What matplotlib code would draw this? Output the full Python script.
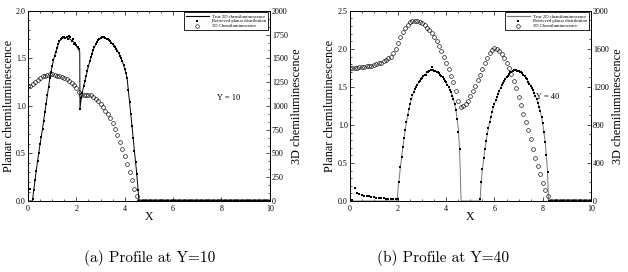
import numpy as np
import matplotlib.pyplot as plt
from matplotlib.ticker import MultipleLocator, AutoMinorLocator
from matplotlib.lines import Line2D

plt.rcParams['font.family'] = ['Liberation Serif', 'DejaVu Serif']

# ---------------- Y = 10 ----------------
a_line_x = [0.0, 0.18, 0.3, 0.4, 0.5, 0.6, 0.7, 0.8, 0.9, 1.0, 1.1, 1.2, 1.3, 1.4, 1.5, 1.6,
            1.7, 1.8, 1.9, 2.0, 2.1, 2.14, 2.15, 2.2, 2.3, 2.4, 2.5, 2.6, 2.7, 2.8, 2.9, 3.0,
            3.1, 3.2, 3.3, 3.4, 3.5, 3.6, 3.7, 3.8, 3.9, 4.0, 4.1, 4.2, 4.3, 4.4, 4.5, 4.58,
            4.6, 10.0]
a_line_y = [0.0, 0.0, 0.24, 0.43, 0.60, 0.76, 0.94, 1.11, 1.29, 1.42, 1.53, 1.61, 1.68, 1.71,
            1.72, 1.72, 1.71, 1.69, 1.67, 1.63, 1.59, 1.57, 0.97, 1.08, 1.21, 1.31, 1.42, 1.51,
            1.59, 1.65, 1.69, 1.71, 1.72, 1.71, 1.70, 1.68, 1.65, 1.62, 1.58, 1.53, 1.47, 1.39,
            1.29, 1.04, 0.79, 0.53, 0.28, 0.03, 0.0, 0.0]

a_dot_x1 = [0.10, 0.20, 0.25, 0.30, 0.35, 0.40, 0.45, 0.50, 0.55, 0.60, 0.65, 0.70, 0.75,
            0.80, 0.85, 0.90, 0.95, 1.00, 1.05, 1.10, 1.15, 1.20, 1.25, 1.30, 1.35, 1.40,
            1.45, 1.50, 1.55, 1.60, 1.65, 1.70, 1.75, 1.80, 1.85, 1.90, 1.95, 2.00, 2.05,
            2.10, 2.15]
a_dot_y1 = [0.13, 0.02, 0.12, 0.22, 0.32, 0.42, 0.51, 0.60, 0.67, 0.76, 0.84, 0.94, 1.02,
            1.11, 1.20, 1.29, 1.36, 1.42, 1.48, 1.53, 1.57, 1.61, 1.65, 1.68, 1.70, 1.71,
            1.72, 1.72, 1.71, 1.72, 1.70, 1.74, 1.72, 1.68, 1.70, 1.65, 1.66, 1.64, 1.62,
            1.60, 0.97]
# second arc, every 0.05 from x = 2.20
a_dot_y2 = [1.08, 1.14, 1.21, 1.26, 1.31, 1.37, 1.42, 1.47, 1.51, 1.55, 1.59, 1.62, 1.65,
            1.67, 1.69, 1.70, 1.71, 1.72, 1.72, 1.72, 1.71, 1.70, 1.70, 1.69, 1.68, 1.66,
            1.65, 1.63, 1.62, 1.60, 1.58, 1.56, 1.53, 1.50, 1.47, 1.43, 1.39, 1.35, 1.29,
            1.17, 1.04, 0.92, 0.79, 0.66, 0.53, 0.41, 0.28, 0.12]
# baseline, every 0.1 from x = 4.6
a_dot_y3 = [0.0] * 55

# 3D chemiluminescence, every 0.1 from x = 0
a_circ_y = [1210, 1210, 1230, 1250, 1270, 1290, 1310, 1320, 1330, 1335, 1335, 1330, 1320,
            1310, 1300, 1290, 1280, 1260, 1240, 1220, 1190, 1150, 1110, 1120, 1120, 1115,
            1110, 1095, 1075, 1050, 1020, 990, 950, 910, 870, 820, 760, 690, 620, 550, 470,
            390, 300, 220, 130, 50] + [0] * 55

# ---------------- Y = 40 ----------------
b_line_x = [0.0, 1.96, 2.0, 2.1, 2.2, 2.3, 2.4, 2.5, 2.6, 2.7, 2.8, 2.9, 3.0, 3.1, 3.2, 3.3,
            3.4, 3.5, 3.6, 3.7, 3.8, 3.9, 4.0, 4.1, 4.2, 4.3, 4.4, 4.5, 4.55, 4.58, 4.6, 4.62,
            5.4, 5.45, 5.5, 5.6, 5.7, 5.8, 5.9, 6.0, 6.1, 6.2, 6.3, 6.4, 6.5, 6.6, 6.7, 6.8,
            6.9, 7.0, 7.1, 7.2, 7.3, 7.4, 7.5, 7.6, 7.7, 7.8, 7.9, 8.0, 8.1, 8.15, 8.2, 8.24,
            10.0]
b_line_y = [0.0, 0.0, 0.15, 0.45, 0.71, 0.94, 1.13, 1.28, 1.39, 1.47, 1.53, 1.58, 1.62, 1.66,
            1.69, 1.71, 1.72, 1.715, 1.70, 1.68, 1.65, 1.61, 1.56, 1.50, 1.43, 1.34, 1.20,
            0.95, 0.70, 0.40, 0.15, 0.0, 0.0, 0.25, 0.42, 0.68, 0.88, 1.04, 1.17, 1.28, 1.37,
            1.45, 1.52, 1.58, 1.63, 1.67, 1.70, 1.72, 1.72, 1.71, 1.69, 1.66, 1.62, 1.57,
            1.52, 1.46, 1.38, 1.29, 1.18, 1.02, 0.78, 0.60, 0.38, 0.0, 0.0]

# low tail, every 0.1 from x = 0.1
b_dot_y1 = [0.01, 0.17, 0.11, 0.09, 0.08, 0.07, 0.065, 0.06, 0.055, 0.05, 0.045, 0.04, 0.04,
            0.035, 0.03, 0.03, 0.025, 0.025, 0.02, 0.02]
# first arc, every 0.05 from x = 2.05
b_dot_y2 = [0.25, 0.45, 0.58, 0.71, 0.83, 0.94, 1.04, 1.13, 1.21, 1.28, 1.34, 1.39, 1.43,
            1.47, 1.50, 1.53, 1.56, 1.58, 1.60, 1.62, 1.65, 1.66, 1.66, 1.69, 1.70, 1.71,
            1.72, 1.76, 1.72, 1.71, 1.71, 1.70, 1.69, 1.68, 1.66, 1.65, 1.63, 1.61, 1.58,
            1.56, 1.53, 1.50, 1.46, 1.43, 1.38, 1.34, 1.27, 1.20, 1.08, 0.91, 0.68]
# second arc, every 0.05 from x = 5.40
b_dot_y3 = [0.02, 0.25, 0.42, 0.56, 0.68, 0.79, 0.88, 0.96, 1.04, 1.11, 1.17, 1.23, 1.28,
            1.33, 1.37, 1.41, 1.45, 1.49, 1.52, 1.55, 1.58, 1.61, 1.63, 1.65, 1.67, 1.69,
            1.70, 1.71, 1.72, 1.72, 1.72, 1.715, 1.71, 1.70, 1.69, 1.68, 1.66, 1.64, 1.62,
            1.60, 1.57, 1.54, 1.51, 1.48, 1.46, 1.42, 1.38, 1.34, 1.29, 1.24, 1.18, 1.11,
            1.02, 0.91, 0.78, 0.60, 0.38, 0.0]
# baseline, every 0.1 from x = 8.3
b_dot_y4 = [0.0] * 18

b_circ_y = [1400, 1400, 1400, 1404, 1408, 1408, 1412, 1416, 1420, 1424, 1432, 1440, 1448,
            1456, 1472, 1484, 1500, 1520, 1552, 1600, 1664, 1728, 1776, 1824, 1856, 1880,
            1892, 1896, 1892, 1884, 1868, 1848, 1824, 1800, 1768, 1728, 1680, 1632, 1576,
            1512, 1448, 1384, 1320, 1248, 1152, 1056, 992, 1000, 1024, 1056, 1104, 1152,
            1208, 1272, 1328, 1392, 1448, 1504, 1552, 1592, 1608, 1600, 1576, 1544, 1504,
            1456, 1400, 1336, 1264, 1184, 1096, 1008, 920, 832, 744, 648, 552, 456, 368,
            280, 192, 112, 48] + [0] * 18


def steps(start, step, vals):
    return start + step * np.arange(len(vals))


def panel(rect, line_x, line_y, dot_x, dot_y, circ_x, circ_y, ylim, ystep, yminor,
          rlim, rstep, rminor, label, label_xy, caption, cap_x, line_col):
    ax = fig.add_axes(rect)
    ax.plot(line_x, line_y, color=line_col, lw=0.7, zorder=2)
    ax.plot(dot_x, dot_y, 's', color='black', ms=1.6, mew=0, zorder=3)
    ax.set_xlim(0, 10)
    ax.set_ylim(*ylim)
    ax.xaxis.set_major_locator(MultipleLocator(2))
    ax.xaxis.set_minor_locator(MultipleLocator(0.5))
    ax.yaxis.set_major_locator(MultipleLocator(ystep))
    ax.yaxis.set_minor_locator(AutoMinorLocator(yminor))
    ax.tick_params(which='both', direction='in', top=True, right=False, labelsize=5.8,
                   pad=1.5, width=0.5)
    ax.tick_params(axis='x', pad=3.2)
    ax.tick_params(which='major', length=3)
    ax.tick_params(which='minor', length=1.5)
    ax.set_xlabel('X', fontsize=8.5, labelpad=-1.5)
    ax.set_ylabel('Planar chemiluminescence', fontsize=8.8, labelpad=1)
    ax.text(label_xy[0], label_xy[1], label, fontsize=6, ha='center', va='center')

    ax2 = ax.twinx()
    ax2.plot(circ_x, circ_y, 'o', mfc='none', mec='black', ms=2.7, mew=0.45)
    ax2.set_ylim(*rlim)
    ax2.yaxis.set_major_locator(MultipleLocator(rstep))
    ax2.yaxis.set_minor_locator(AutoMinorLocator(rminor))
    ax2.tick_params(which='both', direction='in', labelsize=5.8, pad=1.5, width=0.5)
    ax2.tick_params(which='major', length=3)
    ax2.tick_params(which='minor', length=1.5)
    ax2.set_ylabel('3D chemiluminescence', fontsize=8.8, labelpad=2)
    for a in (ax, ax2):
        for s in a.spines.values():
            s.set_linewidth(0.7)

    handles = [Line2D([], [], color=line_col, lw=0.8),
               Line2D([], [], marker='s', ls='none', color='black', ms=1.5, mew=0),
               Line2D([], [], marker='o', ls='none', mfc='none', mec='black', ms=2.6, mew=0.45)]
    leg = ax2.legend(handles, ['True 2D chemiluminescence', 'Retrieved planar distribution',
                               '3D Chemiluminescence'],
                     loc='upper right', fontsize=3.3, frameon=True, fancybox=False,
                     edgecolor='black', framealpha=1, borderaxespad=0.35, handlelength=5,
                     labelspacing=0.15, borderpad=0.4, handletextpad=0.8)
    leg.get_frame().set_linewidth(0.6)

    fig.text(cap_x, 0.05, caption, fontsize=11, family='cmr10', ha='center', va='center')


fig = plt.figure(figsize=(6.28, 2.72), dpi=100)

a_dot_x = np.concatenate([a_dot_x1, steps(2.20, 0.05, a_dot_y2), steps(4.6, 0.1, a_dot_y3)])
a_dot_y = np.concatenate([a_dot_y1, a_dot_y2, a_dot_y3])
panel([0.0446, 0.261, 0.385, 0.699], a_line_x, a_line_y, a_dot_x, a_dot_y,
      steps(0.0, 0.1, a_circ_y), a_circ_y, (0, 2), 0.5, 5, (0, 2000), 250, 3,
      'Y = 10', (8.3, 1.08), '(a) Profile at Y=10', 0.239, 'black')

b_dot_x = np.concatenate([steps(0.1, 0.1, b_dot_y1), steps(2.05, 0.05, b_dot_y2),
                          steps(5.40, 0.05, b_dot_y3), steps(8.3, 0.1, b_dot_y4)])
b_dot_y = np.concatenate([b_dot_y1, b_dot_y2, b_dot_y3, b_dot_y4])
panel([0.557, 0.261, 0.384, 0.699], b_line_x, b_line_y, b_dot_x, b_dot_y,
      steps(0.0, 0.1, b_circ_y), b_circ_y, (0, 2.5), 0.5, 5, (0, 2000), 400, 4,
      'Y = 40', (8.2, 1.37), '(b) Profile at Y=40', 0.705, '#777777')

fig.savefig('out.png', dpi=100)
